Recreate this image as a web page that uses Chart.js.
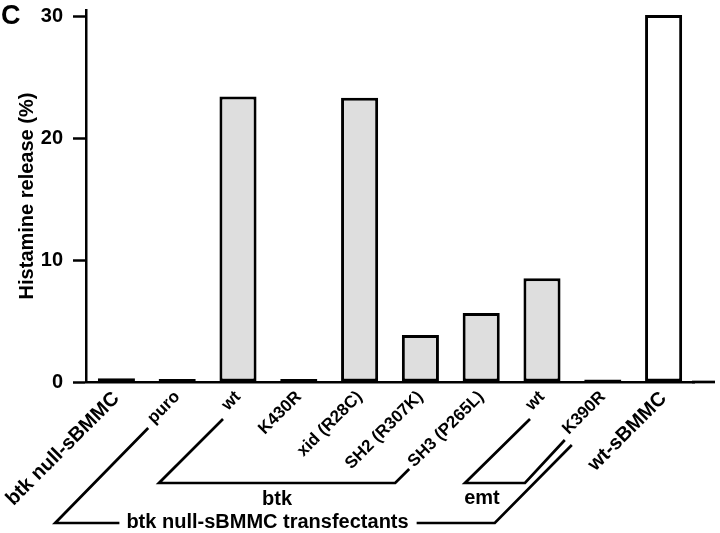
<!DOCTYPE html>
<html>
<head>
<meta charset="utf-8">
<script src="https://cdn.jsdelivr.net/npm/chart.js@4.4.0/dist/chart.umd.min.js"></script>
<style>
  html, body { margin: 0; padding: 0; background: #fff; }
  #wrap { position: relative; width: 720px; height: 533px; }
</style>
</head>
<body>
<div id="wrap"><canvas id="histChart" width="720" height="533"></canvas></div>
<script>
// data
const labels = ["btk null-sBMMC", "puro", "wt", "K430R", "xid (R28C)",
                "SH2 (R307K)", "SH3 (P265L)", "wt", "K390R", "wt-sBMMC"];
const release = [0.3, 0.25, 23.4, 0.25, 23.3, 3.85, 5.65, 8.5, 0.2, 30.1];
const yTicks = [0, 10, 20, 30];
const barFill = ["#111111", "#8a8a8a", "#dedede", "#b0b0b0", "#dedede",
                 "#dedede", "#dedede", "#dedede", "#111111", "#ffffff"];

const FONT = "'Liberation Sans', Arial, Helvetica, sans-serif";

// group brackets under the axis + the panel letter
const bracketPlugin = {
  id: 'brackets',
  afterDraw(chart) {
    const ctx = chart.ctx;
    const x = chart.scales.x;
    const y0 = chart.scales.y.getPixelForValue(0);
    const c = i => x.getPixelForValue(i);

    ctx.save();
    ctx.strokeStyle = '#000';
    ctx.fillStyle = '#000';
    ctx.lineWidth = 2.7;
    ctx.lineJoin = 'miter';

    // extend the baseline to the right like the original
    ctx.beginPath();
    ctx.moveTo(chart.chartArea.right - 2, y0);
    ctx.lineTo(715, y0);
    ctx.stroke();

    // btk bracket
    ctx.beginPath();
    ctx.moveTo(c(2) - 15, y0 + 37);
    ctx.lineTo(c(2) - 79, y0 + 101);
    ctx.lineTo(c(6) - 86, y0 + 101);
    ctx.lineTo(c(6) - 72, y0 + 87);
    ctx.stroke();

    // emt bracket
    ctx.beginPath();
    ctx.moveTo(c(7) - 12, y0 + 37);
    ctx.lineTo(c(7) - 77, y0 + 101);
    ctx.lineTo(c(7) - 17, y0 + 101);
    ctx.lineTo(c(8) - 38, y0 + 58);
    ctx.stroke();

    ctx.font = 'bold 20px ' + FONT;
    ctx.textAlign = 'center';
    ctx.textBaseline = 'middle';
    ctx.fillText('btk', (c(2) - 79 + c(6) - 86) / 2, y0 + 117);
    ctx.fillText('emt', c(7) - 60, y0 + 116);

    // transfectants bracket
    const ty = y0 + 141;
    const txt = 'btk null-sBMMC transfectants';
    const tw = ctx.measureText(txt).width;
    const tx0 = c(0) + 10;
    ctx.textAlign = 'left';
    ctx.fillText(txt, tx0, ty - 1);
    ctx.beginPath();
    ctx.moveTo(c(1) - 29, y0 + 46);
    ctx.lineTo(c(1) - 122, ty);
    ctx.lineTo(tx0 - 7, ty);
    ctx.stroke();
    ctx.beginPath();
    ctx.moveTo(tx0 + tw + 8, ty);
    ctx.lineTo(c(8) - 108, ty);
    ctx.lineTo(c(8) - 31, y0 + 63);
    ctx.stroke();

    // panel letter
    ctx.font = 'bold 27px ' + FONT;
    ctx.textAlign = 'left';
    ctx.textBaseline = 'alphabetic';
    ctx.fillText('C', 1, 24);
    ctx.restore();
  }
};

const ctxEl = document.getElementById('histChart');
const chart = new Chart(ctxEl, {
  type: 'bar',
  data: {
    labels: labels,
    datasets: [{
      label: 'Histamine release (%)',
      data: release,
      backgroundColor: barFill,
      borderColor: '#000',
      borderWidth: 3,
      borderSkipped: false,
      categoryPercentage: 1.0,
      barPercentage: 0.61
    }]
  },
  options: {
    responsive: false,
    animation: false,
    devicePixelRatio: 1,
    layout: { padding: { top: 10, right: 26, left: 0, bottom: 0 } },
    plugins: {
      legend: { display: false },
      tooltip: { enabled: false }
    },
    scales: {
      x: {
        grid: { display: false, drawTicks: false },
        border: { display: true, color: '#000', width: 2.5 },
        ticks: {
          autoSkip: false,
          minRotation: 45,
          maxRotation: 45,
          padding: 5,
          color: '#000',
          font: ctx => ({
            family: FONT,
            weight: 'bold',
            size: (ctx.index === 0 || ctx.index === 9) ? 20 : 17
          })
        },
        afterFit(scale) {
          scale.height = 151;
          scale.paddingLeft = 0;
          scale.paddingRight = 0;
        }
      },
      y: {
        min: 0,
        max: 30.5,
        grid: {
          drawOnChartArea: false,
          drawTicks: true,
          tickLength: 13,
          tickColor: '#000',
          tickWidth: 2.5
        },
        border: { display: true, color: '#000', width: 2.5 },
        afterBuildTicks(scale) {
          scale.ticks = yTicks.map(v => ({ value: v }));
        },
        ticks: {
          includeBounds: false,
          padding: 10,
          color: '#000',
          font: { family: FONT, weight: 'bold', size: 20 }
        },
        title: {
          display: true,
          text: 'Histamine release (%)',
          color: '#000',
          padding: { top: 15, bottom: 0 },
          font: { family: FONT, weight: 'bold', size: 20 }
        },
        afterFit(scale) {
          scale.width = 86;
          scale.paddingTop = 0;
          scale.paddingBottom = 0;
        }
      }
    }
  },
  plugins: [bracketPlugin]
});
</script>
</body>
</html>
